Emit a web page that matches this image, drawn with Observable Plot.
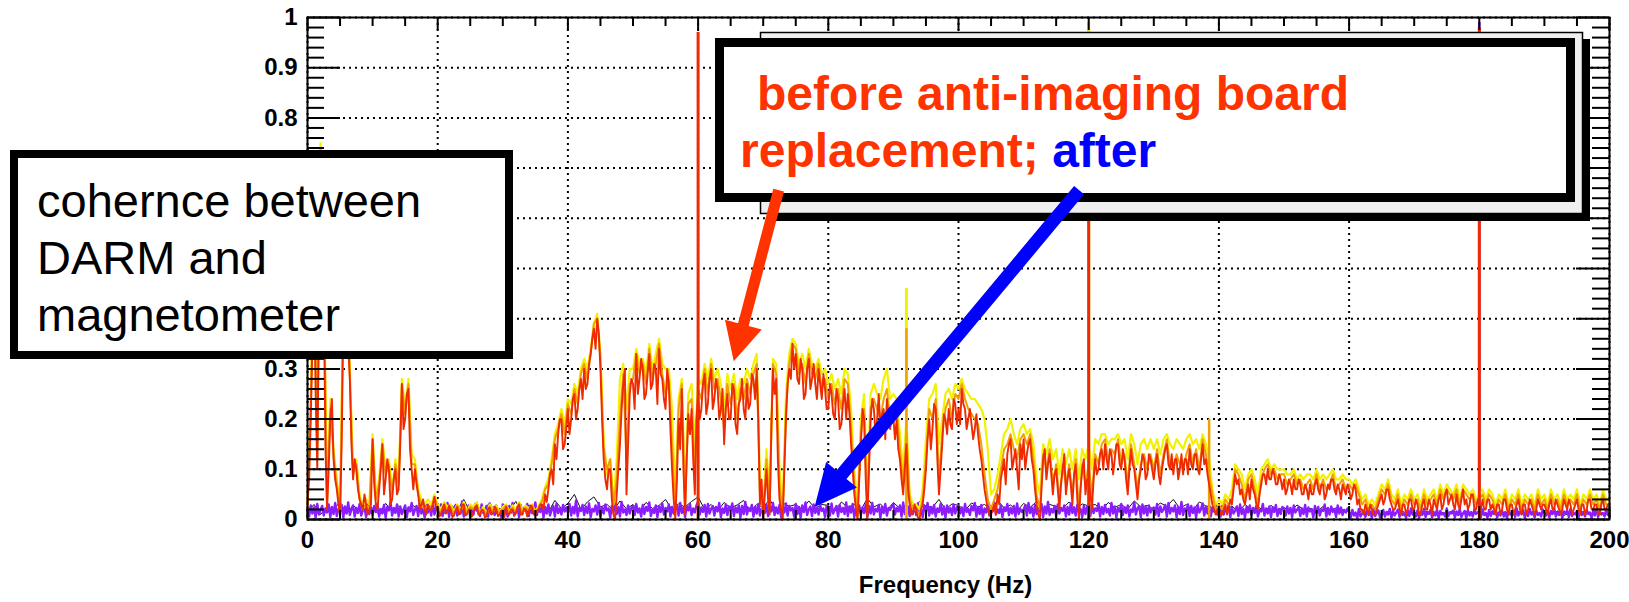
<!DOCTYPE html>
<html>
<head>
<meta charset="utf-8">
<script src="https://cdn.jsdelivr.net/npm/d3@7"></script>
<script src="https://cdn.jsdelivr.net/npm/@observablehq/plot@0.6"></script>
<style>
  html, body { margin: 0; padding: 0; background: #fff; }
  #wrap { position: relative; width: 1629px; height: 602px; overflow: hidden; background: #fff; }
  #wrap > svg { position: absolute; left: 0; top: 0; }
</style>
</head>
<body>
<div id="wrap"></div>
<script>
// ---------------- data ----------------
const xTicks = [0, 20, 40, 60, 80, 100, 120, 140, 160, 180, 200];
const xMinor = [5, 10, 15, 25, 30, 35, 45, 50, 55, 65, 70, 75, 85, 90, 95, 105, 110, 115, 125, 130, 135, 145, 150, 155, 165, 170, 175, 185, 190, 195];
const yTicks = [0, 0.1, 0.2, 0.3, 0.4, 0.5, 0.6, 0.7, 0.8, 0.9, 1];
const yLabels = [0, 0.1, 0.2, 0.3, 0.8, 0.9, 1];   // labels not hidden by the note box
const yMinor = [0.02, 0.04, 0.06, 0.08, 0.12, 0.14, 0.16, 0.18, 0.22, 0.24, 0.26, 0.28, 0.32, 0.34, 0.36, 0.38, 0.42, 0.44, 0.46, 0.48, 0.52, 0.54, 0.56, 0.58, 0.62, 0.64, 0.66, 0.68, 0.72, 0.74, 0.76, 0.78, 0.82, 0.84, 0.86, 0.88, 0.92, 0.94, 0.96, 0.98];

// frequency bins (Hz)
const freqQuarter = d3.range(0, 200.1, 0.25); // 801 bins
const freqHalf = d3.range(0, 200.25, 0.5);    // 401 bins
const freqOne = d3.range(0, 200.5, 1);        // 201 bins

// "before" coherence, red trace (0.25 Hz bins), one row = 10 Hz
const beforeRed = [
  .03,.08,.2,.35,.5,.25,.1,.4,.7,.6,.45,.15,.02,.1,.2,.24,.12,.08,.06,.03,.01,.15,.4,.6,.55,.35,.28,.15,.08,.12,.1,.06,.04,.03,.02,.05,.03,.01,.02,.03,
  .16,.07,.03,.02,.06,.1,.15,.05,.08,.12,.1,.03,.04,.08,.1,.05,.06,.15,.27,.18,.2,.25,.26,.14,.1,.06,.1,.07,.05,.02,.03,.04,.02,.01,.03,.02,.02,.03,.045,.02,
  .02,.006,.01,.022,.03,.012,.015,.028,.02,.005,.008,.018,.025,.01,.012,.03,.03,.008,.01,.02,.02,.006,.015,.025,.028,.01,.01,.02,.018,.004,.006,.022,.024,.01,.012,.026,.02,.007,.01,.018,
  .015,.005,.025,.012,.01,.02,.02,.008,.012,.025,.03,.01,.01,.022,.02,.006,.015,.028,.025,.01,.01,.018,.02,.03,.03,.02,.05,.035,.06,.09,.1,.07,.15,.12,.17,.2,.2,.14,.15,.18,
  .22,.17,.2,.24,.25,.2,.22,.26,.28,.24,.3,.26,.27,.31,.33,.36,.38,.34,.4,.37,.3,.2,.12,.08,.06,.1,.1,.04,.01,0,.05,.1,.15,.22,.27,.3,.05,.15,.25,.28,
  .27,.22,.33,.25,.28,.32,.3,.24,.25,.29,.33,.26,.27,.31,.3,.23,.34,.29,.28,.24,.22,.3,.27,.18,.1,.04,0,.08,.2,.14,.26,.1,.01,.12,.21,.17,.22,.12,.05,.2,
  .25,.2,.22,.27,.29,.21,.23,.28,.3,.22,.24,.28,.26,.2,.22,.26,.15,.22,.25,.2,.2,.27,.26,.19,.17,.23,.24,.28,.22,.2,.27,.22,.23,.29,.28,.24,.3,.2,.03,.08,
  0,.05,.1,.04,.01,.18,.3,.25,.28,.12,.04,.02,0,.1,.2,.27,.3,.28,.35,.3,.33,.28,.27,.32,.3,.24,.25,.3,.32,.26,.28,.31,.27,.24,.3,.27,.24,.29,.26,.22,
  .22,.27,.25,.21,.2,.26,.24,.18,.19,.23,.26,.2,.25,.21,.15,.1,.05,.02,0,.08,.15,.22,.2,.08,0,.1,.2,.24,.22,.17,.2,.25,.18,.21,.22,.16,.24,.2,.18,.22,
  .2,.16,.2,.14,.12,.08,.05,.1,.15,.06,.03,.01,.01,.03,.02,.005,0,.02,.03,.06,.1,.16,.2,.14,.18,.23,.22,.12,.05,.1,.15,.21,.2,.17,.22,.19,.18,.24,.23,.19,
  .22,.19,.26,.23,.22,.18,.2,.22,.19,.16,.18,.21,.17,.14,.12,.09,.06,.04,.02,.01,.01,.02,.03,.01,.05,.03,.08,.1,.12,.07,.13,.15,.16,.1,.12,.14,.1,.06,.15,.12,
  .16,.1,.13,.15,.16,.12,.1,.06,.03,.01,0,.06,.12,.14,.08,.11,.13,.09,.05,.09,.1,.06,.02,.07,.1,.13,.05,.08,.1,.07,.03,.09,.11,.04,0,.06,.1,.12,.05,.08,
  .08,.05,.02,.08,.12,.09,.1,.13,.14,.1,.15,.12,.1,.14,.13,.09,.12,.15,.15,.11,.1,.14,.12,.08,.05,.1,.14,.11,.1,.07,.04,.08,.1,.13,.12,.08,.09,.13,.12,.1,
  .08,.11,.13,.09,.07,.1,.12,.14,.15,.11,.1,.13,.09,.12,.12,.08,.1,.13,.09,.12,.12,.09,.14,.11,.1,.13,.13,.1,.09,.12,.15,.11,.12,.09,.07,.05,.03,.02,.01,.02,
  .02,.01,.01,.02,.03,.01,.02,.04,.03,.06,.09,.07,.08,.05,.06,.04,.03,.05,.07,.04,.08,.06,.05,.03,.02,.05,.07,.09,.09,.07,.1,.08,.08,.1,.09,.07,.07,.09,.08,.06,
  .08,.05,.06,.08,.07,.05,.08,.06,.06,.08,.07,.05,.05,.07,.06,.04,.07,.05,.05,.07,.08,.06,.05,.07,.07,.04,.05,.07,.06,.08,.08,.06,.05,.07,.06,.04,.07,.06,.05,.07,
  .06,.04,.05,.07,.06,.03,.04,.02,.02,.01,.03,.02,.01,.03,.02,.01,.01,.02,.03,.04,.05,.03,.04,.06,.06,.04,.03,.02,.02,.03,.04,.02,.01,.03,.03,.01,.02,.04,.04,.02,
  .02,.04,.03,.01,.01,.03,.04,.02,.02,.04,.03,.01,.04,.03,.02,.04,.05,.02,.03,.05,.06,.03,.04,.05,.03,.02,.05,.03,.02,.04,.06,.03,.04,.02,.03,.05,.05,.02,.02,.04,
  .03,.02,.04,.02,.02,.04,.04,.02,.03,.02,.01,.03,.03,.01,.02,.04,.04,.02,.01,.03,.03,.01,.02,.03,.04,.02,.01,.03,.03,.01,.02,.04,.03,.02,.01,.02,.04,.03,.02,.03,
  .03,.02,.01,.03,.04,.02,.02,.04,.03,.02,.01,.02,.04,.03,.02,.04,.03,.01,.02,.03,.04,.02,.01,.03,.03,.01,.02,.04,.04,.02,.02,.03,.03,.01,.01,.03,.04,.02,.02,.03,
  .03
];

// "before" coherence, orange trace (0.5 Hz bins), one row = 10 Hz
const beforeOrange = [
  .03,.22,.52,.12,.74,.48,.03,.22,.13,.07,.01,.42,.56,.29,.09,.11,.04,.02,.03,.02,
  .16,.04,.07,.15,.09,.11,.05,.11,.07,.27,.21,.27,.11,.11,.05,.03,.02,.03,.02,.045,
  .025,.015,.03,.02,.025,.01,.028,.015,.03,.012,.025,.02,.03,.012,.02,.008,.026,.015,.024,.012,
  .02,.028,.012,.024,.015,.032,.012,.024,.018,.028,.012,.024,.035,.06,.07,.11,.16,.18,.21,.17,
  .23,.21,.26,.23,.29,.31,.28,.33,.39,.4,.32,.14,.1,.12,.03,.08,.2,.29,.12,.27,
  .28,.33,.29,.31,.27,.34,.28,.31,.35,.29,.25,.28,.15,.02,.22,.27,.02,.23,.24,.1,
  .26,.24,.3,.25,.31,.26,.28,.24,.18,.27,.23,.27,.2,.26,.24,.28,.25,.29,.31,.05,
  .01,.12,.03,.31,.29,.07,.01,.22,.31,.35,.34,.29,.31,.27,.33,.29,.28,.31,.26,.28,
  .24,.27,.23,.26,.22,.28,.27,.18,.07,.01,.17,.22,.02,.22,.24,.22,.2,.24,.26,.2,
  .22,.22,.14,.07,.17,.04,.02,.02,.01,.04,.12,.22,.2,.24,.08,.17,.22,.24,.2,.25,
  .24,.27,.24,.22,.21,.2,.19,.15,.09,.04,.02,.04,.06,.1,.14,.15,.17,.14,.12,.16,
  .17,.15,.17,.12,.05,.02,.13,.1,.14,.07,.11,.04,.11,.07,.11,.05,.12,.02,.11,.07,
  .11,.05,.13,.11,.15,.16,.12,.14,.13,.16,.11,.13,.07,.15,.11,.06,.11,.13,.1,.13,
  .1,.14,.09,.13,.16,.11,.1,.13,.11,.1,.13,.15,.11,.14,.1,.16,.13,.09,.05,.02,
  .03,.02,.04,.03,.04,.1,.09,.07,.04,.08,.09,.06,.03,.08,.1,.11,.09,.1,.08,.09,
  .09,.07,.08,.09,.07,.08,.06,.07,.08,.06,.09,.06,.08,.06,.07,.09,.06,.07,.08,.06,
  .07,.06,.07,.05,.03,.04,.02,.03,.02,.04,.06,.05,.07,.04,.03,.05,.02,.04,.03,.05,
  .03,.04,.02,.05,.03,.04,.05,.03,.06,.04,.06,.05,.04,.06,.03,.06,.05,.04,.05,.03,
  .04,.05,.03,.05,.04,.02,.04,.03,.05,.02,.04,.03,.05,.02,.04,.03,.04,.02,.05,.03,
  .04,.02,.05,.03,.04,.02,.05,.03,.04,.03,.05,.02,.04,.03,.05,.03,.04,.02,.05,.03,
  .03
];

// "before" coherence, yellow trace (0.5 Hz bins), one row = 10 Hz
const beforeYellow = [
  .03,.25,.55,.15,.75,.5,.05,.24,.14,.08,.02,.45,.58,.3,.1,.12,.05,.03,.04,.03,
  .17,.05,.08,.16,.1,.12,.06,.12,.08,.28,.22,.28,.13,.12,.06,.04,.03,.04,.03,.05,
  .03,.02,.035,.025,.03,.015,.03,.02,.035,.015,.03,.025,.035,.015,.025,.012,.03,.02,.028,.015,
  .025,.03,.015,.028,.02,.035,.018,.028,.022,.03,.015,.028,.04,.065,.08,.12,.17,.19,.22,.19,
  .24,.23,.27,.25,.3,.32,.3,.34,.39,.41,.33,.16,.09,.12,.03,.12,.28,.31,.22,.3,
  .3,.34,.31,.32,.29,.35,.3,.33,.36,.31,.3,.3,.22,.04,.24,.28,.04,.25,.27,.15,
  .28,.27,.31,.28,.32,.28,.3,.27,.22,.29,.26,.29,.24,.28,.27,.3,.28,.31,.33,.08,
  .03,.14,.05,.32,.31,.1,.03,.25,.33,.36,.35,.31,.33,.3,.34,.31,.3,.32,.29,.3,
  .27,.29,.26,.28,.25,.3,.29,.22,.1,.03,.2,.25,.05,.25,.27,.25,.24,.28,.3,.24,
  .25,.24,.17,.1,.2,.05,.03,.03,.02,.06,.16,.24,.25,.27,.15,.2,.25,.26,.24,.27,
  .26,.28,.26,.25,.24,.24,.23,.22,.2,.14,.05,.06,.09,.13,.17,.18,.2,.17,.15,.18,
  .19,.17,.18,.15,.08,.05,.15,.13,.16,.12,.14,.09,.14,.11,.14,.1,.14,.08,.14,.12,
  .15,.1,.16,.15,.17,.17,.15,.16,.16,.17,.15,.16,.12,.17,.15,.11,.15,.16,.14,.16,
  .14,.16,.13,.16,.17,.15,.14,.16,.15,.14,.16,.17,.15,.16,.14,.17,.15,.12,.06,.03,
  .04,.03,.05,.04,.06,.11,.1,.09,.06,.09,.1,.08,.05,.1,.11,.12,.1,.11,.1,.1,
  .1,.09,.09,.1,.08,.09,.08,.09,.09,.08,.1,.08,.09,.08,.09,.1,.08,.08,.09,.08,
  .08,.07,.08,.06,.04,.05,.03,.04,.03,.05,.07,.06,.08,.05,.04,.06,.03,.05,.04,.06,
  .04,.05,.03,.06,.04,.05,.06,.04,.07,.05,.07,.06,.05,.07,.04,.07,.06,.05,.06,.04,
  .05,.06,.04,.06,.05,.03,.05,.04,.06,.03,.05,.04,.06,.03,.05,.04,.05,.03,.06,.04,
  .05,.03,.06,.04,.05,.03,.06,.04,.05,.04,.06,.03,.05,.04,.06,.04,.05,.03,.06,.04,
  .04
];

// "after" coherence, purple trace (0.25 Hz bins), one row = 10 Hz
const afterPurple = [
  .02,.006,.028,.012,.024,.004,.031,.01,.019,.027,.008,.022,.014,.03,.005,.025,.011,.033,.007,.021,.016,.029,.004,.026,.012,.034,.009,.02,.028,.006,.023,.013,.031,.008,.018,.026,.005,.03,.011,.024,
  .009,.027,.015,.032,.006,.021,.012,.029,.004,.025,.018,.035,.008,.023,.013,.03,.006,.026,.011,.02,.028,.005,.024,.016,.033,.009,.019,.027,.007,.031,.012,.022,.004,.029,.014,.026,.008,.034,.01,.021,
  .025,.011,.03,.007,.022,.017,.033,.005,.027,.013,.02,.029,.008,.024,.012,.036,.006,.021,.015,.028,.004,.026,.01,.031,.018,.023,.007,.03,.013,.019,.027,.006,.032,.011,.024,.009,.028,.016,.021,.005,
  .03,.012,.022,.006,.027,.014,.033,.008,.02,.025,.005,.029,.011,.024,.017,.031,.007,.026,.013,.021,.034,.009,.023,.015,.028,.004,.025,.012,.03,.008,.019,.027,.006,.032,.013,.022,.01,.029,.016,.024,
  .014,.031,.008,.025,.012,.038,.006,.023,.017,.029,.009,.026,.013,.032,.005,.021,.016,.028,.01,.033,.007,.024,.012,.03,.018,.022,.004,.027,.015,.031,.011,.025,.006,.035,.014,.02,.009,.028,.012,.023,
  .027,.009,.031,.014,.022,.006,.029,.011,.025,.017,.034,.007,.02,.013,.028,.005,.026,.015,.032,.01,.023,.016,.03,.006,.025,.012,.019,.029,.008,.033,.013,.024,.005,.027,.018,.031,.009,.022,.014,.028,
  .036,.01,.024,.015,.029,.006,.031,.012,.021,.027,.008,.025,.016,.033,.005,.022,.013,.03,.009,.026,.019,.032,.007,.024,.014,.028,.004,.027,.011,.035,.01,.023,.017,.029,.006,.025,.012,.031,.008,.022,
  .022,.013,.03,.007,.026,.016,.033,.009,.024,.012,.029,.005,.021,.014,.032,.008,.027,.018,.023,.006,.031,.011,.025,.004,.028,.015,.034,.009,.02,.026,.007,.03,.013,.024,.01,.029,.017,.022,.005,.027,
  .025,.008,.032,.012,.02,.027,.006,.029,.015,.023,.011,.034,.007,.026,.014,.031,.005,.022,.017,.028,.009,.024,.013,.03,.006,.027,.012,.033,.01,.021,.016,.029,.004,.025,.013,.031,.008,.023,.019,.026,
  .031,.01,.023,.016,.028,.006,.034,.011,.02,.026,.007,.03,.014,.024,.009,.032,.013,.021,.005,.027,.017,.033,.008,.025,.012,.029,.006,.022,.015,.031,.01,.026,.004,.028,.014,.023,.009,.03,.012,.024,
  .028,.012,.024,.007,.031,.015,.021,.009,.027,.018,.033,.006,.025,.011,.029,.004,.022,.014,.03,.008,.026,.016,.034,.01,.02,.013,.028,.005,.024,.017,.031,.009,.023,.012,.027,.006,.032,.011,.021,.015,
  .02,.028,.008,.033,.013,.024,.006,.029,.011,.022,.016,.031,.005,.026,.012,.035,.009,.021,.014,.027,.007,.03,.012,.023,.017,.028,.006,.025,.01,.032,.013,.024,.008,.029,.015,.021,.005,.027,.011,.026,
  .027,.007,.03,.013,.022,.017,.032,.006,.025,.011,.029,.014,.021,.008,.033,.012,.026,.004,.023,.016,.031,.009,.024,.013,.028,.006,.02,.015,.034,.01,.022,.027,.005,.03,.012,.025,.008,.028,.014,.021,
  .024,.01,.031,.007,.026,.015,.02,.029,.006,.033,.012,.023,.016,.028,.005,.025,.011,.035,.009,.022,.018,.03,.007,.027,.013,.024,.004,.029,.014,.021,.032,.008,.025,.012,.028,.006,.023,.016,.03,.01,
  .022,.006,.027,.01,.02,.015,.029,.005,.024,.012,.018,.026,.007,.03,.011,.021,.004,.025,.014,.028,.009,.023,.013,.027,.006,.019,.016,.031,.008,.022,.012,.026,.005,.024,.015,.029,.007,.021,.011,.025,
  .02,.008,.026,.012,.023,.005,.028,.014,.019,.025,.007,.022,.011,.029,.006,.024,.016,.021,.004,.027,.013,.025,.008,.02,.017,.03,.006,.023,.01,.026,.015,.021,.005,.028,.012,.024,.009,.019,.014,.022,
  .015,.004,.019,.008,.014,.002,.021,.006,.012,.017,.005,.02,.009,.016,.003,.022,.007,.013,.018,.004,.011,.019,.006,.015,.01,.021,.003,.017,.008,.014,.02,.005,.016,.009,.013,.003,.018,.007,.022,.01,
  .013,.006,.018,.003,.016,.009,.021,.005,.014,.011,.019,.004,.015,.008,.02,.002,.017,.01,.013,.006,.022,.007,.014,.012,.018,.004,.016,.009,.021,.005,.012,.017,.003,.019,.008,.015,.006,.02,.011,.014,
  .017,.005,.02,.009,.013,.003,.019,.007,.016,.011,.021,.004,.014,.008,.018,.006,.015,.002,.02,.01,.013,.017,.005,.022,.008,.014,.011,.019,.003,.016,.007,.021,.01,.015,.004,.018,.009,.013,.006,.02,
  .014,.008,.019,.004,.017,.011,.022,.006,.015,.009,.02,.003,.016,.012,.018,.005,.021,.007,.013,.01,.017,.004,.02,.009,.015,.006,.019,.011,.014,.003,.018,.008,.022,.005,.016,.01,.013,.006,.02,.009,
  .012
];

// "after" coherence, black trace (1 Hz bins), one row = 10 Hz
const afterBlack = [
  .015,.03,.01,.025,.02,.035,.012,.028,.018,.03,
  .022,.01,.032,.016,.027,.012,.03,.02,.035,.015,
  .028,.012,.03,.018,.04,.014,.026,.02,.033,.011,
  .027,.017,.036,.012,.029,.02,.031,.015,.038,.022,
  .032,.05,.02,.035,.045,.025,.03,.018,.037,.021,
  .03,.016,.034,.022,.028,.04,.019,.031,.025,.036,
  .045,.02,.03,.017,.034,.023,.029,.038,.016,.03,
  .024,.04,.018,.033,.026,.03,.02,.037,.022,.03,
  .028,.016,.035,.024,.03,.019,.042,.025,.031,.018,
  .034,.022,.03,.016,.036,.027,.024,.04,.02,.031,
  .028,.018,.033,.025,.03,.02,.038,.023,.029,.017,
  .032,.024,.036,.019,.03,.026,.022,.035,.02,.031,
  .027,.03,.018,.034,.024,.03,.021,.037,.025,.028,
  .02,.033,.026,.04,.022,.03,.018,.035,.027,.024,
  .022,.018,.027,.015,.03,.02,.025,.017,.028,.019,
  .024,.016,.029,.02,.022,.015,.026,.018,.023,.02,
  .015,.01,.018,.012,.02,.008,.016,.011,.019,.009,
  .014,.01,.017,.008,.015,.012,.018,.009,.016,.011,
  .013,.009,.017,.01,.015,.008,.016,.011,.014,.009,
  .015,.01,.017,.008,.014,.011,.016,.009,.015,.01,
  .012
];

// narrow line features (Hz, peak coherence, trace)
const spikeFreq   = [92, 92, 138.5, 180, 120, 60, 120, 180];
const spikeTop    = [0.46, 0.38, 0.2, 0.99, 0.99, 0.97, 0.96, 0.98];
const spikeSeries = ["yellow", "orange", "orange", "purple", "yellow", "red", "red", "red"];

// annotation texts
const boxLines = ["cohernce between", "DARM and", "magnetometer"];
const noteLine1 = "before anti-imaging board";
const noteLine2a = "replacement; ";
const noteLine2b = "after";
const axisTitle = "Frequency (Hz)";

// arrows in data coordinates (Hz, coherence)
const arrowRed  = {from: [72.45, 0.655], to: [65.55, 0.314]};
const arrowBlue = {from: [118.6, 0.655], to: [77.97, 0.024]};

// ---------------- checks ----------------
[[beforeRed, 801, "red"], [afterPurple, 801, "purple"], [beforeOrange, 401, "orange"], [beforeYellow, 401, "yellow"], [afterBlack, 201, "black"]]
  .forEach(([a, n, k]) => { if (a.length !== n) throw new Error(k + " length " + a.length + " expected " + n); });

// ---------------- chart ----------------
const W = 1629, H = 602;
const M = {top: 17, right: 20, bottom: 83, left: 307};
const PW = W - M.left - M.right, PH = H - M.top - M.bottom;
const col = {red: "#f02a00", orange: "#f0a000", yellow: "#f2f200", purple: "#8a1cff", black: "#111111"};
const font = "'Liberation Sans', Arial, Helvetica, sans-serif";

const table = (freqs, vals) => freqs.map((f, i) => ({f, v: vals[i]}));
const spikeIdx = s => spikeFreq.map((_, i) => i).filter(i => spikeSeries[i] === s);
const spikeRule = (s, w) => Plot.ruleX(spikeIdx(s), {x: i => spikeFreq[i], y1: 0, y2: i => spikeTop[i], stroke: col[s], strokeWidth: w});
const fmt = d3.format("~g");

const chart = Plot.plot({
  width: W, height: H,
  marginTop: M.top, marginRight: M.right, marginBottom: M.bottom, marginLeft: M.left,
  x: {domain: [0, 200], label: null},
  y: {domain: [0, 1], label: null},
  style: {fontFamily: font, fontSize: "24px", fontWeight: "bold", color: "#000", background: "#fff"},
  marks: [
    Plot.gridX(xTicks, {stroke: "#000", strokeOpacity: 1, strokeWidth: 2, strokeDasharray: "2,4"}),
    Plot.gridY(yTicks, {stroke: "#000", strokeOpacity: 1, strokeWidth: 2, strokeDasharray: "2,4"}),
    Plot.line(table(freqOne, afterBlack), {x: "f", y: "v", stroke: col.black, strokeWidth: 1}),
    spikeRule("purple", 2.5),
    Plot.line(table(freqQuarter, afterPurple), {x: "f", y: "v", stroke: col.purple, strokeWidth: 2.4}),
    spikeRule("yellow", 3),
    Plot.line(table(freqHalf, beforeYellow), {x: "f", y: "v", stroke: col.yellow, strokeWidth: 2.2}),
    spikeRule("orange", 2.5),
    Plot.line(table(freqHalf, beforeOrange), {x: "f", y: "v", stroke: col.orange, strokeWidth: 2}),
    Plot.line(table(freqQuarter, beforeRed), {x: "f", y: "v", stroke: col.red, strokeWidth: 1.9}),
    spikeRule("red", 3),
    // inward ticks
    Plot.tickY(yTicks, {y: d => d, insetRight: PW - 33, stroke: "#000", strokeWidth: 2}),
    Plot.tickY(yMinor, {y: d => d, insetRight: PW - 17, stroke: "#000", strokeWidth: 2}),
    Plot.tickY(yTicks, {y: d => d, insetLeft: PW - 33, stroke: "#000", strokeWidth: 2}),
    Plot.tickY(yMinor, {y: d => d, insetLeft: PW - 17, stroke: "#000", strokeWidth: 2}),
    Plot.tickX(xTicks, {x: d => d, insetBottom: PH - 13, stroke: "#000", strokeWidth: 2}),
    Plot.tickX(xMinor, {x: d => d, insetBottom: PH - 9, stroke: "#000", strokeWidth: 2}),
    Plot.tickX(xTicks, {x: d => d, insetTop: PH - 13, stroke: "#000", strokeWidth: 2}),
    Plot.tickX(xMinor, {x: d => d, insetTop: PH - 9, stroke: "#000", strokeWidth: 2}),
    Plot.frame({stroke: "#000", strokeWidth: 2}),
    Plot.axisX(xTicks, {tickSize: 0, tickPadding: 11, tickFormat: fmt, label: null}),
    Plot.axisY(yLabels, {tickSize: 0, tickPadding: 10, tickFormat: fmt, label: null}),
    Plot.text([axisTitle], {frameAnchor: "bottom", dy: 66, dx: -13, lineAnchor: "middle", fontSize: 24, fontWeight: "bold", fill: "#000"})
  ]
});

const wrap = document.getElementById("wrap");
wrap.appendChild(chart);

// ---------------- annotations overlay ----------------
const sx = chart.scale("x"), sy = chart.scale("y");
const ov = d3.select(wrap).append("svg").attr("width", W).attr("height", H)
  .style("font-family", font);

// left note box
ov.append("rect").attr("x", 14).attr("y", 154).attr("width", 495).attr("height", 201)
  .attr("fill", "#fff").attr("stroke", "#000").attr("stroke-width", 8);
boxLines.forEach((t, i) => {
  ov.append("text").attr("x", 37).attr("y", 217 + i * 57).attr("font-size", 47)
    .attr("fill", "#000").text(t);
});

// ROOT legend pad behind the note (with shadow)
ov.append("rect").attr("x", 767).attr("y", 39).attr("width", 823).attr("height", 182).attr("fill", "#000");
ov.append("rect").attr("x", 760.5).attr("y", 32.5).attr("width", 822).attr("height", 181)
  .attr("fill", "#efefef").attr("stroke", "#000").attr("stroke-width", 1.5);

// right note box
ov.append("rect").attr("x", 719.5).attr("y", 42.5).attr("width", 851).attr("height", 155)
  .attr("fill", "#fff").attr("stroke", "#000").attr("stroke-width", 9);
ov.append("text").attr("x", 757).attr("y", 110).attr("font-size", 48).attr("font-weight", "bold")
  .attr("fill", "#ff3300").text(noteLine1);
const t2 = ov.append("text").attr("x", 740).attr("y", 167).attr("font-size", 48).attr("font-weight", "bold")
  .style("white-space", "pre");
t2.append("tspan").attr("fill", "#ff3300").text(noteLine2a);
t2.append("tspan").attr("fill", "#0000ff").text(noteLine2b);

// arrows
function arrowPoly(a, shaftW, headL, headW) {
  const x0 = sx.apply(a.from[0]), y0 = sy.apply(a.from[1]);
  const x1 = sx.apply(a.to[0]), y1 = sy.apply(a.to[1]);
  const L = Math.hypot(x1 - x0, y1 - y0), ux = (x1 - x0) / L, uy = (y1 - y0) / L;
  const nx = -uy, ny = ux;
  const bx = x1 - ux * headL, by = y1 - uy * headL;
  const p = [
    [x0 + nx * shaftW / 2, y0 + ny * shaftW / 2],
    [bx + nx * shaftW / 2, by + ny * shaftW / 2],
    [bx + nx * headW / 2, by + ny * headW / 2],
    [x1, y1],
    [bx - nx * headW / 2, by - ny * headW / 2],
    [bx - nx * shaftW / 2, by - ny * shaftW / 2],
    [x0 - nx * shaftW / 2, y0 - ny * shaftW / 2]
  ];
  return p.map(q => q.join(",")).join(" ");
}
ov.append("polygon").attr("points", arrowPoly(arrowRed, 11, 38, 38)).attr("fill", "#ff3300");
ov.append("polygon").attr("points", arrowPoly(arrowBlue, 13, 42, 40)).attr("fill", "#0000ff");
</script>
</body>
</html>
